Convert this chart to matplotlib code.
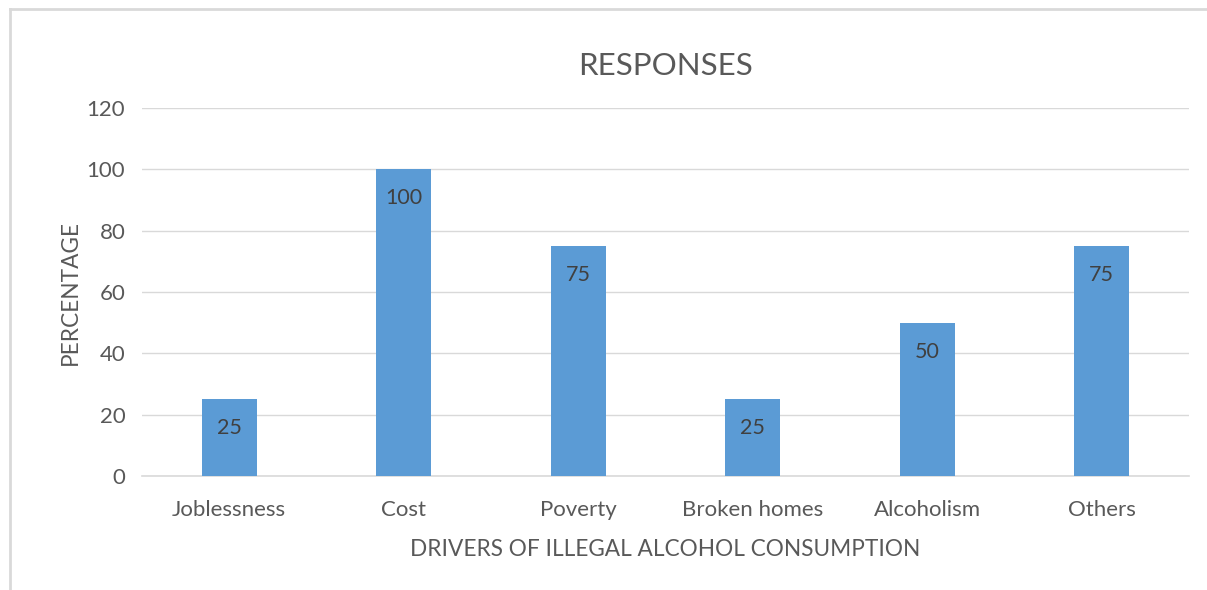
import matplotlib.pyplot as plt
from matplotlib.lines import Line2D

categories = ['Joblessness', 'Cost', 'Poverty', 'Broken homes', 'Alcoholism', 'Others']
responses = [25, 100, 75, 25, 50, 75]
y_ticks = [0, 20, 40, 60, 80, 100, 120]

plt.rcParams['font.family'] = ['Lato', 'DejaVu Sans']

fig = plt.figure(figsize=(12.07, 5.9), dpi=100)
ax = fig.add_axes([0.1176, 0.1932, 0.8674, 0.6237])

x = range(len(categories))
bars = ax.bar(x, responses, width=0.315, color='#5B9BD5', zorder=3)

# value labels sit just inside the top of each bar
for rect, val in zip(bars, responses):
    ax.annotate(str(val), xy=(rect.get_x() + rect.get_width() / 2, val),
                xytext=(0, -29), textcoords='offset pixels',
                ha='center', va='center', fontsize=15.5, color='#404040', zorder=4)

ax.set_xlim(-0.5, len(categories) - 0.5)
ax.set_ylim(0, 120)
ax.set_yticks(y_ticks)
ax.set_xticks(list(x))
ax.set_xticklabels(categories)
ax.tick_params(axis='both', length=0, labelsize=16, labelcolor='#595959')
ax.tick_params(axis='y', pad=12)
ax.tick_params(axis='x', pad=17)
ax.yaxis.grid(True, color='#D9D9D9', linewidth=1, zorder=0)
for side in ['top', 'right', 'left']:
    ax.spines[side].set_visible(False)
ax.spines['bottom'].set_color('#D9D9D9')
ax.spines['bottom'].set_linewidth(1.2)

ax.set_title('RESPONSES', fontsize=22.5, color='#595959', pad=24)
ax.set_ylabel('PERCENTAGE', fontsize=16.3, color='#595959', labelpad=4)
ax.set_xlabel('DRIVERS OF ILLEGAL ALCOHOL CONSUMPTION', fontsize=16.3, color='#595959', labelpad=14)

# chart frame along the left and top edges
fig.add_artist(Line2D([10 / 1207, 10 / 1207], [0, 1 - 9 / 590], transform=fig.transFigure,
                      color='#D9D9D9', linewidth=2))
fig.add_artist(Line2D([10 / 1207, 1], [1 - 9 / 590, 1 - 9 / 590], transform=fig.transFigure,
                      color='#D9D9D9', linewidth=2))

fig.savefig('out.png', dpi=100)
